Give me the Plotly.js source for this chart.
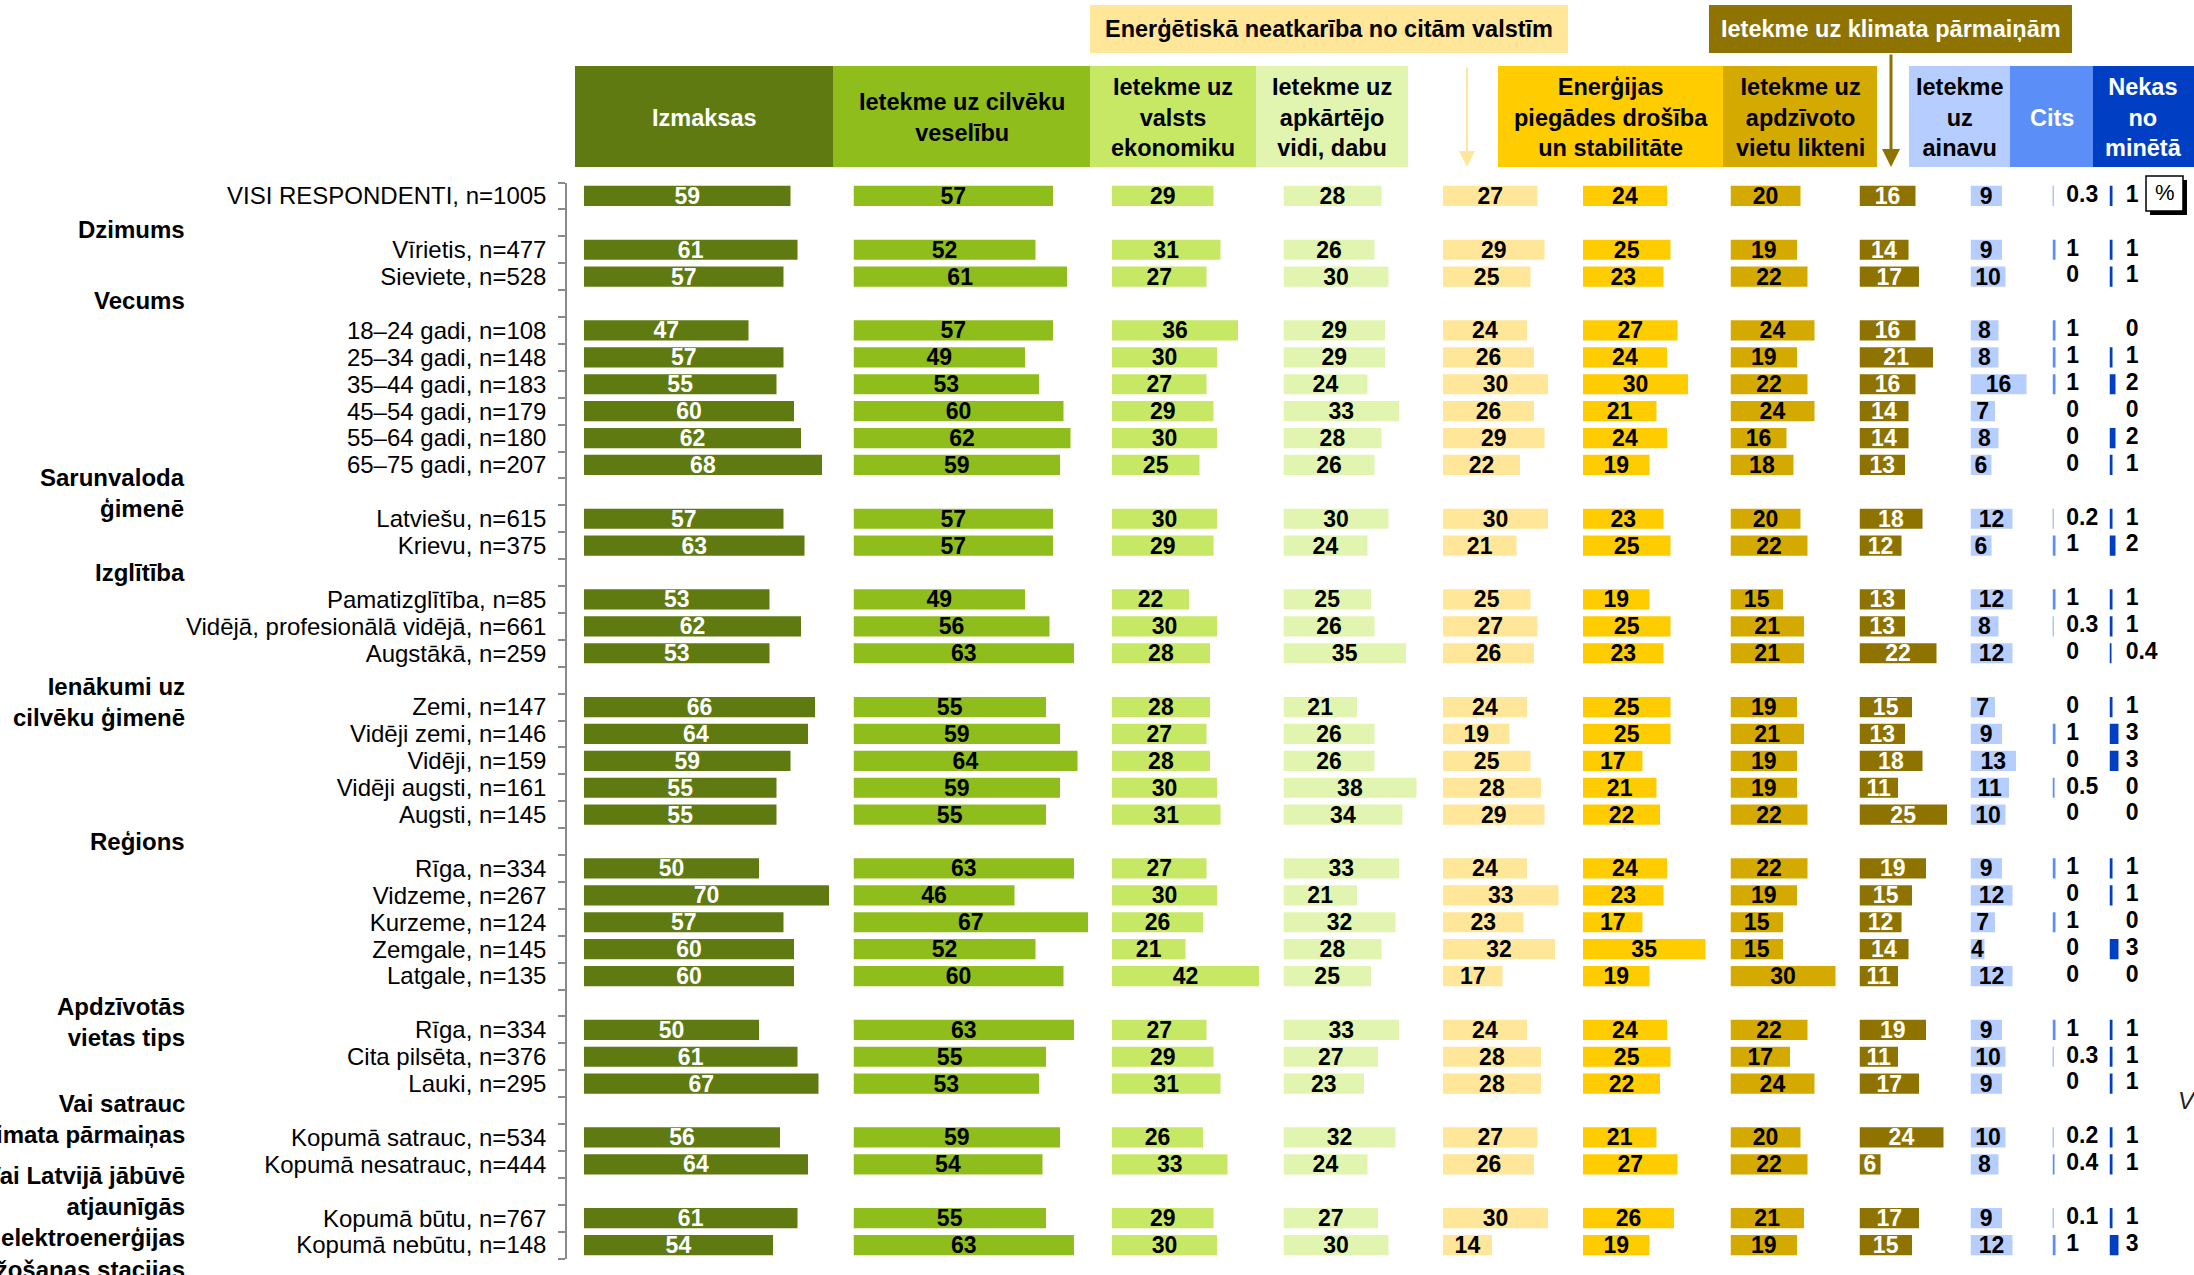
<!DOCTYPE html>
<html>
<head>
<meta charset="utf-8">
<script src="https://cdn.plot.ly/plotly-3.0.1.min.js"></script>
<style>html,body{margin:0;padding:0;background:#fff;}#chart{width:2194px;height:1275px;}</style>
</head>
<body>
<div id="chart"></div>
<script>
// ---------------- DATA ----------------
const groupHeaders = [
  null,
  'Dzimums',
  'Vecums',
  'Sarunvaloda<br>ģimenē',
  'Izglītība',
  'Ienākumi uz<br>cilvēku ģimenē',
  'Reģions',
  'Apdzīvotās<br>vietas tips',
  'Vai satrauc<br>klimata pārmaiņas',
  'Vai Latvijā jābūvē<br>atjaunīgās<br>elektroenerģijas<br>ražošanas stacijas'
];
const groupRows = [
  ['VISI RESPONDENTI, n=1005'],
  ['Vīrietis, n=477', 'Sieviete, n=528'],
  ['18–24 gadi, n=108', '25–34 gadi, n=148', '35–44 gadi, n=183', '45–54 gadi, n=179', '55–64 gadi, n=180', '65–75 gadi, n=207'],
  ['Latviešu, n=615', 'Krievu, n=375'],
  ['Pamatizglītība, n=85', 'Vidējā, profesionālā vidējā, n=661', 'Augstākā, n=259'],
  ['Zemi, n=147', 'Vidēji zemi, n=146', 'Vidēji, n=159', 'Vidēji augsti, n=161', 'Augsti, n=145'],
  ['Rīga, n=334', 'Vidzeme, n=267', 'Kurzeme, n=124', 'Zemgale, n=145', 'Latgale, n=135'],
  ['Rīga, n=334', 'Cita pilsēta, n=376', 'Lauki, n=295'],
  ['Kopumā satrauc, n=534', 'Kopumā nesatrauc, n=444'],
  ['Kopumā būtu, n=767', 'Kopumā nebūtu, n=148']
];

const izmaksas        = [59, 61,57, 47,57,55,60,62,68, 57,63, 53,62,53, 66,64,59,55,55, 50,70,57,60,60, 50,61,67, 56,64, 61,54];
const veseliba        = [57, 52,61, 57,49,53,60,62,59, 57,57, 49,56,63, 55,59,64,59,55, 63,46,67,52,60, 63,55,53, 59,54, 55,63];
const ekonomika       = [29, 31,27, 36,30,27,29,30,25, 30,29, 22,30,28, 28,27,28,30,31, 27,30,26,21,42, 27,29,31, 26,33, 29,30];
const videDaba        = [28, 26,30, 29,29,24,33,28,26, 30,24, 25,26,35, 21,26,26,38,34, 33,21,32,28,25, 33,27,23, 32,24, 27,30];
const neatkariba      = [27, 29,25, 24,26,30,26,29,22, 30,21, 25,27,26, 24,19,25,28,29, 24,33,23,32,17, 24,28,28, 27,26, 30,14];
const piegadesDrosiba = [24, 25,23, 27,24,30,21,24,19, 23,25, 19,25,23, 25,25,17,21,22, 24,23,17,35,19, 24,25,22, 21,27, 26,19];
const apdzVietas      = [20, 19,22, 24,19,22,24,16,18, 20,22, 15,21,21, 19,21,19,19,22, 22,19,15,15,30, 22,17,24, 20,22, 21,19];
const klimats         = [16, 14,17, 16,21,16,14,14,13, 18,12, 13,13,22, 15,13,18,11,25, 19,15,12,14,11, 19,11,17, 24,6, 17,15];
const ainava          = [9, 9,10, 8,8,16,7,8,6, 12,6, 12,8,12, 7,9,13,11,10, 9,12,7,4,12, 9,10,9, 10,8, 9,12];
const cits            = [0.3, 1,0, 1,1,1,0,0,0, 0.2,1, 1,0.3,0, 0,1,0,0.5,0, 1,0,1,0,0, 1,0.3,0, 0.2,0.4, 0.1,1];
const nekas           = [1, 1,1, 0,1,2,0,2,1, 1,2, 1,1,0.4, 1,3,3,0,0, 1,1,0,3,0, 1,1,1, 1,1, 1,3];

const columnNames = [
  'Izmaksas', 'Ietekme uz cilvēku<br>veselību', 'Ietekme uz<br>valsts<br>ekonomiku',
  'Ietekme uz<br>apkārtējo<br>vidi, dabu', 'Enerģētiskā neatkarība no citām valstīm',
  'Enerģijas<br>piegādes drošība<br>un stabilitāte', 'Ietekme uz<br>apdzīvoto<br>vietu likteni',
  'Ietekme uz klimata pārmaiņām', 'Ietekme<br>uz<br>ainavu', 'Cits', 'Nekas<br>no<br>minētā'
];
const series = [izmaksas, veseliba, ekonomika, videDaba, neatkariba, piegadesDrosiba, apdzVietas, klimats, ainava, cits, nekas];

// ---------------- STYLE ----------------
const W = 2194, H = 1275;
const FONT = 'Liberation Sans, Arial, Helvetica, sans-serif';
const colors   = ['#5E7A11', '#8FBD1B', '#C6E864', '#E1F5B0', '#FFE699', '#FFCC00', '#D4A900', '#8E7300', '#B6CEFF', '#5B8EF7', '#003FC4'];
const txtColor = ['#FFFFFF', '#000000', '#000000', '#000000', '#000000', '#000000', '#000000', '#FFFFFF', '#000000', '#000000', '#000000'];
const colStart = [584, 853.5, 1112, 1283.5, 1443, 1583, 1730.5, 1859.5, 1970.5, 2052.5, 2109.5];
const colRange = [72, 70, 46, 44, 38, 40, 36, 30, 20, 14, 24];
const pxPerUnit= [3.5, 3.5, 3.5, 3.5, 3.5, 3.5, 3.5, 3.5, 3.5, 3.0, 3.0];
const outsideLabelOffset = [4.6, 5.4]; // axis units for the small columns' labels

const px = v => v / W;
const py = v => 1 - v / H;

// slots
let slot = 0;
const rowSlots = [], rowLabels = [], headerSlots = [];
groupHeaders.forEach((h, gi) => {
  if (h !== null) { headerSlots.push(slot); slot++; } else headerSlots.push(null);
  groupRows[gi].forEach(lbl => { rowSlots.push(slot); rowLabels.push(lbl); slot++; });
});
const nSlots = slot;
const boundaries = [];
for (let i = 0; i <= nSlots; i++) boundaries.push(i - 0.5);

const yTop = 182.5, yBot = 1258.5;

const traces = [];
const layout = {
  width: W, height: H,
  margin: {l: 0, r: 0, t: 0, b: 0},
  paper_bgcolor: '#ffffff', plot_bgcolor: 'rgba(0,0,0,0)',
  showlegend: false, hovermode: false,
  font: {family: FONT, color: '#000'},
  shapes: [], annotations: [],
  yaxis: {
    domain: [py(yBot), py(yTop)],
    range: [nSlots - 0.5, -0.5],
    anchor: 'free', position: px(566),
    tickmode: 'array', tickvals: rowSlots, ticktext: rowLabels,
    ticks: '', showline: true, linecolor: '#8a8a8a', linewidth: 1.5,
    showgrid: false, zeroline: false,
    ticklabelstandoff: 14,
    tickfont: {family: FONT, size: 24, color: '#000'},
    minor: {tickmode: 'array', tickvals: boundaries, ticks: 'outside', ticklen: 7, tickwidth: 1.5, tickcolor: '#8a8a8a', showgrid: false}
  }
};

series.forEach((vals, i) => {
  const k = i === 0 ? '' : String(i + 1);
  const d0 = colStart[i], d1 = colStart[i] + colRange[i] * pxPerUnit[i];
  layout['xaxis' + k] = {domain: [px(d0), px(d1)], range: [0, colRange[i]], visible: false, anchor: 'y', fixedrange: true};
  const small = i >= 9;
  traces.push({
    type: 'bar', orientation: 'h',
    x: vals, y: rowSlots,
    xaxis: 'x' + k, yaxis: 'y',
    width: 0.75,
    marker: {color: colors[i], line: {width: 0}},
    text: small ? null : vals.map(v => String(v)),
    textposition: small ? 'none' : 'inside',
    insidetextanchor: 'middle',
    constraintext: 'none',
    textangle: 0,
    insidetextfont: {family: FONT, size: 23, color: txtColor[i], weight: 700},
    cliponaxis: false,
    hoverinfo: 'skip'
  });
  if (small) {
    traces.push({
      type: 'scatter', mode: 'text',
      x: vals.map(() => outsideLabelOffset[i - 9]), y: rowSlots,
      xaxis: 'x' + k, yaxis: 'y',
      text: vals.map(v => String(v)),
      textposition: 'middle right',
      textfont: {family: FONT, size: 23, color: '#000', weight: 700},
      cliponaxis: false, hoverinfo: 'skip'
    });
  }
});

// group headers
const headerYOffset = [0, 0.25, -0.1, 0.05, 0, 0.8, 0, 0.7, 0.3, 1.15];
groupHeaders.forEach((h, gi) => {
  if (h === null) return;
  layout.annotations.push({
    xref: 'paper', yref: 'y', x: px(187), y: headerSlots[gi] + headerYOffset[gi],
    xanchor: 'right', yanchor: 'middle', align: 'right', showarrow: false,
    text: h, font: {family: FONT, size: 24, color: '#000', weight: 700}
  });
});

// header boxes
const headerBoxes = [
  [575, 833, 0], [833, 1090, 1], [1090, 1256, 2], [1256, 1408, 3],
  [1498, 1723, 5], [1723, 1877, 6], [1909, 2010, 8], [2010, 2093, 9], [2093, 2194, 10]
];
headerBoxes.forEach(([a, b, ci]) => {
  layout.shapes.push({type: 'rect', xref: 'paper', yref: 'paper', x0: px(a), x1: px(b), y0: py(167), y1: py(66),
    fillcolor: colors[ci], line: {width: 0}, layer: 'below'});
  const white = (ci === 0 || ci === 9 || ci === 10);
  layout.annotations.push({xref: 'paper', yref: 'paper', x: px((a + b) / 2), y: py(118),
    xanchor: 'center', yanchor: 'middle', showarrow: false, align: 'center',
    text: columnNames[ci], font: {family: FONT, size: 23.5, color: white ? '#fff' : '#000', weight: 700}});
});

// callouts
const callouts = [[1090, 1568, 4, '#000'], [1709, 2072, 7, '#fff']];
callouts.forEach(([a, b, ci, tc]) => {
  layout.shapes.push({type: 'rect', xref: 'paper', yref: 'paper', x0: px(a), x1: px(b), y0: py(53), y1: py(5),
    fillcolor: colors[ci], line: {width: 0}});
  layout.annotations.push({xref: 'paper', yref: 'paper', x: px((a + b) / 2), y: py(29),
    xanchor: 'center', yanchor: 'middle', showarrow: false,
    text: columnNames[ci], font: {family: FONT, size: 23.5, color: tc, weight: 700}});
});
// arrows
layout.annotations.push({xref: 'paper', yref: 'paper', x: px(1467), y: py(167), ax: 0, ay: -101,
  text: '', showarrow: true, arrowhead: 2, arrowsize: 1.6, arrowwidth: 2, arrowcolor: colors[4], standoff: 0});
layout.annotations.push({xref: 'paper', yref: 'paper', x: px(1891), y: py(167), ax: 0, ay: -114,
  text: '', showarrow: true, arrowhead: 2, arrowsize: 1.2, arrowwidth: 3, arrowcolor: colors[7], standoff: 0});

// % box
layout.shapes.push({type: 'rect', xref: 'paper', yref: 'paper', x0: px(2150), x1: px(2187), y0: py(215), y1: py(180), fillcolor: '#000', line: {width: 0}});
layout.shapes.push({type: 'rect', xref: 'paper', yref: 'paper', x0: px(2146), x1: px(2183), y0: py(211), y1: py(176), fillcolor: '#fff', line: {color: '#000', width: 1.5}});
layout.annotations.push({xref: 'paper', yref: 'paper', x: px(2164.5), y: py(192), xanchor: 'center', yanchor: 'middle',
  showarrow: false, text: '%', font: {family: FONT, size: 22, color: '#000'}});

// cut-off italic text at right edge
layout.annotations.push({xref: 'paper', yref: 'paper', x: px(2176), y: py(1100), xanchor: 'left', yanchor: 'middle',
  showarrow: false, text: 'V', font: {family: FONT, size: 24, color: '#222', style: 'italic'}});

Plotly.newPlot('chart', traces, layout, {displayModeBar: false, responsive: false});
</script>
</body>
</html>
